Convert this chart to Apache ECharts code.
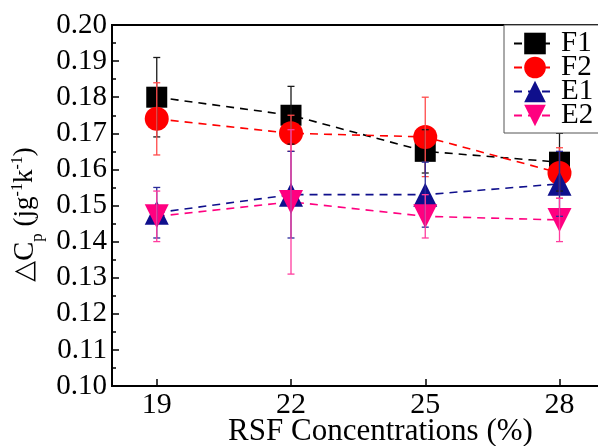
<!DOCTYPE html>
<html>
<head>
<meta charset="utf-8">
<script src="https://cdn.jsdelivr.net/npm/echarts@6/dist/echarts.min.js"></script>
<style>
  html, body { margin: 0; padding: 0; background: #fff; }
  #chart { width: 598px; height: 446px; }
</style>
</head>
<body>
<div id="chart"></div>
<script>
// RSF concentration (%) on the x axis
const concentrations = [19, 22, 25, 28];
const xTicks = [19, 22, 25, 28];

// Heat capacity change, with symmetric error bars
const f1 = [0.180, 0.175, 0.165, 0.162];
const f1Err = [0.011, 0.008, 0.006, 0.008];
const f2 = [0.174, 0.170, 0.169, 0.159];
const f2Err = [0.010, 0.005, 0.011, 0.007];
const e1 = [0.148, 0.153, 0.153, 0.156];
const e1Err = [0.007, 0.012, 0.009, 0.009];
const e2 = [0.147, 0.151, 0.147, 0.146];
const e2Err = [0.007, 0.020, 0.006, 0.006];

const FONT = '"Liberation Serif", "DejaVu Serif", serif';

const groups = [
  { name: 'F1', values: f1, errors: f1Err, color: '#000000', barColor: '#1a1a1a', symbol: 'rect', size: 21, rotate: 0 },
  { name: 'F2', values: f2, errors: f2Err, color: '#ff0000', barColor: '#ff4a4a', symbol: 'circle', size: 24, rotate: 0 },
  { name: 'E1', values: e1, errors: e1Err, color: '#0f0f8c', barColor: '#2a2a9a', symbol: 'triangle', size: 24, rotate: 0 },
  { name: 'E2', values: e2, errors: e2Err, color: '#ff0080', barColor: '#ff3d9e', symbol: 'triangle', size: 24, rotate: 180 }
];

const lineSeries = groups.map(g => ({
  name: g.name,
  type: 'line',
  data: concentrations.map((c, i) => [c, g.values[i]]),
  symbol: g.symbol,
  symbolSize: g.size,
  symbolRotate: g.rotate,
  showAllSymbol: true,
  itemStyle: { color: g.color, opacity: 1 },
  lineStyle: { color: g.color, width: 1.6, type: [8, 6] },
  emphasis: { disabled: true },
  z: 2
}));

// Error bars: vertical stem plus short horizontal caps
const errorSeries = groups.map(g => ({
  name: g.name + ' error',
  type: 'custom',
  data: concentrations.map((c, i) => [c, g.values[i] - g.errors[i], g.values[i] + g.errors[i]]),
  renderItem: function (params, api) {
    const lo = api.coord([api.value(0), api.value(1)]);
    const hi = api.coord([api.value(0), api.value(2)]);
    const half = 3.5;
    const style = { stroke: g.barColor, lineWidth: 1.3 };
    return {
      type: 'group',
      children: [
        { type: 'line', shape: { x1: lo[0], y1: lo[1], x2: hi[0], y2: hi[1] }, style: style },
        { type: 'line', shape: { x1: lo[0] - half, y1: lo[1], x2: lo[0] + half, y2: lo[1] }, style: style },
        { type: 'line', shape: { x1: hi[0] - half, y1: hi[1], x2: hi[0] + half, y2: hi[1] }, style: style }
      ]
    };
  },
  silent: true,
  z: 3
}));

const chart = echarts.init(document.getElementById('chart'), null, { renderer: 'canvas' });

chart.setOption({
  animation: false,
  backgroundColor: '#ffffff',
  grid: {
    left: 112,
    top: 25,
    width: 537,
    height: 361,
    show: true,
    borderColor: '#000',
    borderWidth: 2,
    containLabel: false,
    outerBoundsMode: 'none'
  },
  legend: {
    data: groups.map(g => g.name),
    orient: 'vertical',
    left: 504,
    top: 25,
    itemWidth: 42,
    itemHeight: 27,
    itemGap: -5,
    padding: [4, 40, 3, 9],
    backgroundColor: '#fff',
    borderColor: '#555',
    borderWidth: 1,
    borderRadius: 0,
    textStyle: { fontFamily: FONT, fontSize: 29, color: '#000', lineHeight: 22 }
  },
  xAxis: {
    type: 'value',
    min: 18,
    max: 30,
    name: 'RSF Concentrations (%)',
    nameLocation: 'middle',
    nameGap: 30,
    nameMoveOverlap: false,
    nameTextStyle: { fontFamily: FONT, fontSize: 31, color: '#000' },
    axisLine: { show: true, lineStyle: { color: '#000', width: 2 } },
    axisTick: { show: true, inside: true, length: 7, customValues: xTicks, lineStyle: { color: '#000', width: 1.5 } },
    axisLabel: { customValues: xTicks, fontFamily: FONT, fontSize: 30, color: '#000', margin: 4 },
    splitLine: { show: false }
  },
  yAxis: {
    type: 'value',
    min: 0.10,
    max: 0.20,
    interval: 0.01,
    name: '{d|△}{c|C}{sub|p}{n| (jg}{sup|-1}{n|k}{sup|-1}{n|)}',
    nameLocation: 'middle',
    nameRotate: 90,
    nameGap: 72,
    nameMoveOverlap: false,
    nameTextStyle: {
      color: '#000',
      padding: [0, 18, 0, 0],
      rich: {
        d: { fontFamily: '"DejaVu Sans", sans-serif', fontSize: 27, color: '#000', lineHeight: 30, verticalAlign: 'middle' },
        c: { fontFamily: FONT, fontSize: 29, color: '#000', lineHeight: 30 },
        n: { fontFamily: FONT, fontSize: 27, color: '#000', lineHeight: 30 },
        sub: { fontFamily: FONT, fontSize: 17, color: '#000', lineHeight: 30, verticalAlign: 'bottom', padding: [0, 0, -6, 0] },
        sup: { fontFamily: FONT, fontSize: 16, color: '#000', lineHeight: 30, verticalAlign: 'top' }
      }
    },
    axisLine: { show: true, lineStyle: { color: '#000', width: 2 } },
    axisTick: { show: true, inside: true, length: 7, lineStyle: { color: '#000', width: 1.5 } },
    minorTick: { show: true, splitNumber: 2, length: 4, lineStyle: { color: '#000', width: 1.5 } },
    axisLabel: {
      fontFamily: FONT, fontSize: 29, color: '#000', margin: 5,
      formatter: v => v.toFixed(2)
    },
    splitLine: { show: false }
  },
  series: lineSeries.concat(errorSeries)
});
</script>
</body>
</html>
